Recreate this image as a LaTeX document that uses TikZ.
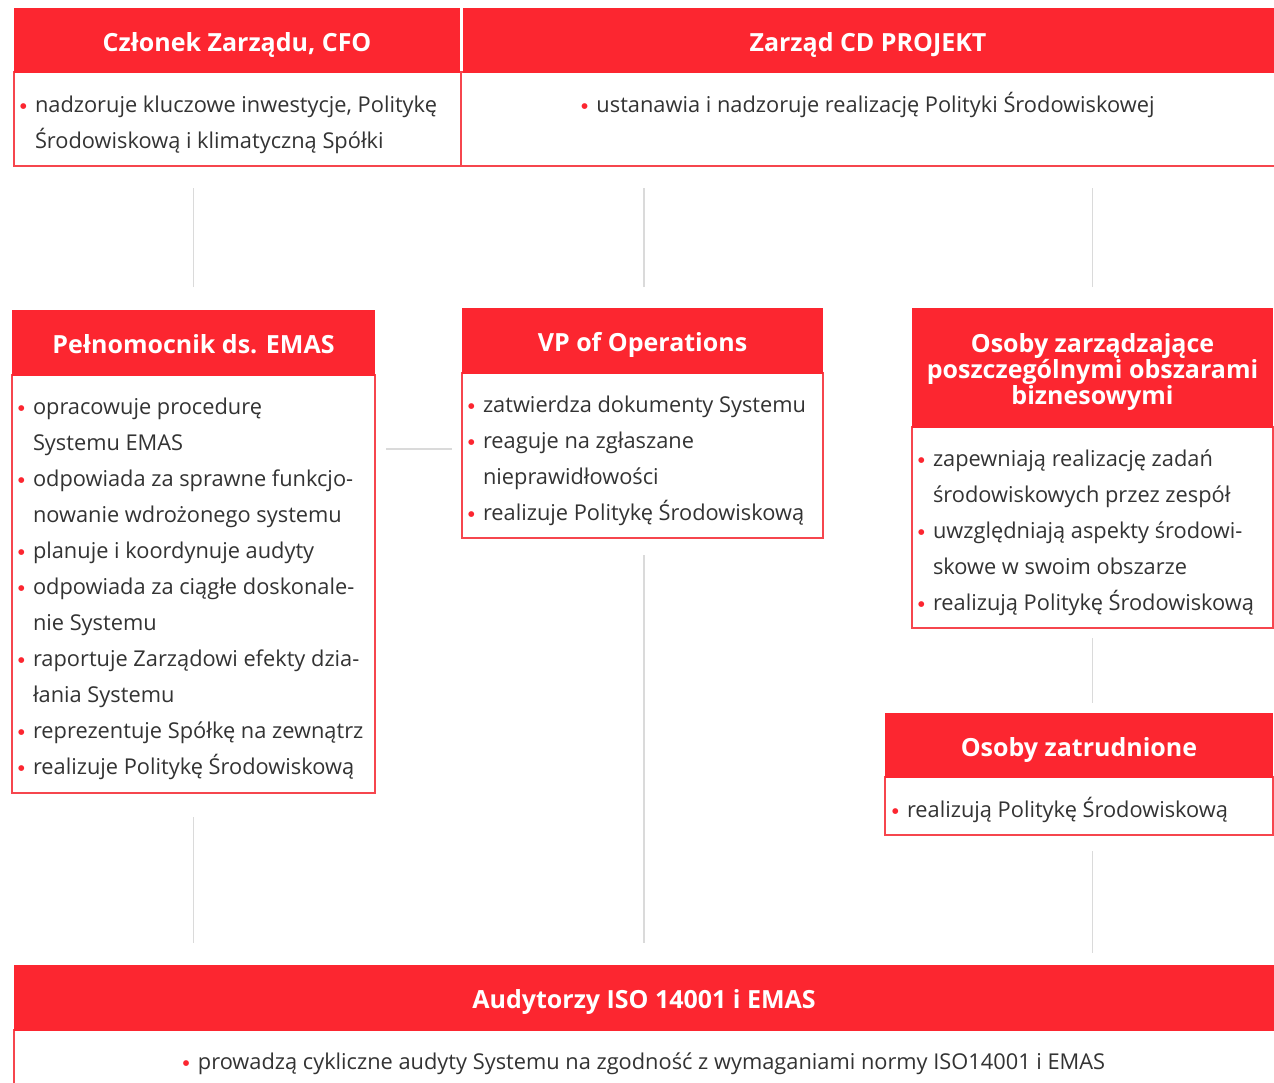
\documentclass[tikz,border=0pt]{standalone}
\usepackage{fontspec}
\setmainfont{Open Sans}
\newfontfamily\dejavu{DejaVu Sans}
\definecolor{cdred}{RGB}{252,38,48}
\definecolor{cdborder}{RGB}{246,70,78}
\definecolor{txtgray}{RGB}{51,51,51}
\definecolor{conngray}{RGB}{218,218,218}
\newcommand\bl{\makebox[15pt][l]{\textcolor{cdred}{\raisebox{3.6pt}{\dejavu\fontsize{7.5}{7.5}\selectfont ●}}}}
\newcommand\ind{\hspace*{15pt}}
\tikzset{
  hdr/.style={rectangle, fill=cdred, draw=none, inner sep=0pt, outer sep=0pt, anchor=north west},
  hdrtxt/.style={text=white, font=\bfseries\fontsize{25}{26}\selectfont, inner sep=0pt, align=center, anchor=base},
  bodyb/.style={rectangle, draw=cdborder, line width=1.1pt, inner sep=0pt, outer sep=0pt, anchor=north west},
  btxt/.style={inner sep=0pt, outer sep=0pt, anchor=base west, align=left, text=txtgray,
    font=\fontsize{21.8}{36}\selectfont},
  conn/.style={draw=conngray, line width=1.4pt}
}
\begin{document}
\begin{tikzpicture}[x=1pt,y=-1pt]
\useasboundingbox (0,0) rectangle (1274,1082);
\fill[white] (0,0) rectangle (1274,1082);
% ---------- top boxes ----------
\node[bodyb, minimum width=447, minimum height=94] (cfoB) at (14,72) {};
\node[bodyb, minimum width=814, minimum height=94] (zarB) at (461,72) {};
\node[hdr, minimum width=446, minimum height=65] (cfoH) at (14,8) {};
\node[hdr, minimum width=811, minimum height=65] (zarH) at (463,8) {};
\node[hdrtxt] (cfoT) at (237,51.5) {Członek Zarządu, CFO};
\node[hdrtxt] (zarT) at (868,51.5) {Zarząd CD PROJEKT};
\node[btxt] (cfoX) at (20,148) {\bl nadzoruje kluczowe inwestycje, Politykę\\\ind Środowiskową i klimatyczną Spółki};
\node[btxt, anchor=base] (zarX) at (868,112) {\bl ustanawia i nadzoruje realizację Polityki Środowiskowej};
% ---------- Pełnomocnik ----------
\node[bodyb, minimum width=363, minimum height=418] (pelB) at (12,375) {};
\node[hdr, minimum width=363, minimum height=66] (pelH) at (12,310) {};
\node[hdrtxt] (pelT) at (193.5,353.5) {Pełnomocnik ds. EMAS};
\node[btxt] (pelX) at (18,774) {\bl opracowuje procedurę\\\ind Systemu EMAS\\\bl odpowiada za sprawne funkcjo-\\\ind nowanie wdrożonego systemu\\\bl planuje i koordynuje audyty\\\bl odpowiada za ciągłe doskonale-\\\ind nie Systemu\\\bl raportuje Zarządowi efekty dzia-\\\ind łania Systemu\\\bl reprezentuje Spółkę na zewnątrz\\\bl realizuje Politykę Środowiskową};
% ---------- VP ----------
\node[bodyb, minimum width=361, minimum height=165] (vpB) at (462,373) {};
\node[hdr, minimum width=361, minimum height=66] (vpH) at (462,308) {};
\node[hdrtxt] (vpT) at (642.5,351.5) {VP of Operations};
\node[btxt] (vpX) at (468,520) {\bl zatwierdza dokumenty Systemu\\\bl reaguje na zgłaszane\\\ind nieprawidłowości\\\bl realizuje Politykę Środowiskową};
% ---------- Osoby zarządzające ----------
\node[bodyb, minimum width=361, minimum height=201] (ozB) at (912,427) {};
\node[hdr, minimum width=361, minimum height=120] (ozH) at (912,308) {};
\node[hdrtxt] (ozT) at (1092.5,404) {Osoby zarządzające\\poszczególnymi obszarami\\biznesowymi};
\node[btxt] (ozX) at (918,610) {\bl zapewniają realizację zadań\\\ind środowiskowych przez zespół\\\bl uwzględniają aspekty środowi-\\\ind skowe w swoim obszarze\\\bl realizują Politykę Środowiskową};
% ---------- Osoby zatrudnione ----------
\node[bodyb, minimum width=388, minimum height=58] (zatB) at (885,777) {};
\node[hdr, minimum width=388, minimum height=65] (zatH) at (885,713) {};
\node[hdrtxt] (zatT) at (1079,756.5) {Osoby zatrudnione};
\node[btxt] (zatX) at (892,817) {\bl realizują Politykę Środowiskową};
% ---------- Audytorzy ----------
\node[bodyb, minimum width=1262, minimum height=60] (audB) at (14,1030) {};
\node[hdr, minimum width=1262, minimum height=66] (audH) at (14,965) {};
\node[hdrtxt] (audT) at (644,1008.5) {Audytorzy ISO 14001 i EMAS};
\node[btxt, anchor=base] (audX) at (644,1069) {\bl prowadzą cykliczne audyty Systemu na zgodność z wymaganiami normy ISO14001 i EMAS};
% ---------- connectors ----------
\draw[conn, shorten <=23pt, shorten >=22pt] (pelH.north) -- (pelH.north |- cfoB.south);
\draw[conn, shorten <=21pt, shorten >=22pt] ([xshift=1.5pt]vpH.north) -- ([xshift=1.5pt]vpH.north |- zarB.south);
\draw[conn, shorten <=21pt, shorten >=22pt] (ozH.north) -- (ozH.north |- zarB.south);
\draw[conn, shorten <=11pt, shorten >=10pt] (pelB.east |- 0,449) -- (vpB.west |- 0,449);
\draw[conn, shorten <=17pt, shorten >=22pt] ([xshift=1.5pt]vpB.south) -- ([xshift=1.5pt]vpB.south |- audH.north);
\draw[conn, shorten <=24pt, shorten >=22pt] (pelB.south) -- (pelB.south |- audH.north);
\draw[conn, shorten <=10pt, shorten >=10pt] (ozB.south) -- (ozB.south |- zatH.north);
\draw[conn, shorten <=16pt, shorten >=12pt] (ozB.south |- zatB.south) -- (ozB.south |- audH.north);
\end{tikzpicture}
\end{document}
